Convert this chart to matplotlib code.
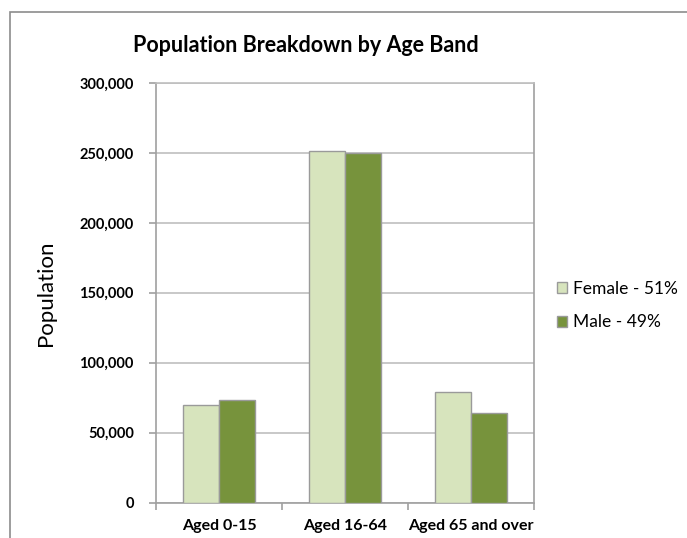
import matplotlib
matplotlib.use("Agg")
import matplotlib.pyplot as plt
from matplotlib.patches import Rectangle
from matplotlib.ticker import FuncFormatter
import numpy as np

categories = ["Aged 0-15", "Aged 16-64", "Aged 65 and over"]
female = [69700, 251200, 78800]
male = [73100, 249800, 64200]
series_labels = ["Female - 51%", "Male - 49%"]
title = "Population Breakdown by Age Band"
ylabel = "Population"

W, H = 687, 538
fig = plt.figure(figsize=(W / 100, H / 100), dpi=100)
plt.rcParams['font.family'] = ['Lato', 'DejaVu Sans']

# outer chart frame
fig.patches.append(Rectangle((9.5 / W, -0.2), 1.2, 1.2 - 12 / H, transform=fig.transFigure,
                             fill=False, edgecolor="#8c8c8c", linewidth=1.2, zorder=0))

left, right, top, bottom = 156, 534, 83, 502.5
ax = fig.add_axes([left / W, 1 - bottom / H, (right - left) / W, (bottom - top) / H])
x = np.arange(len(categories))
bw = 0.289
ax.bar(x - bw / 2, female, bw, color="#d7e4bd", edgecolor="#9a9a9a", linewidth=1, label=series_labels[0], zorder=3)
ax.bar(x + bw / 2, male, bw, color="#77933c", edgecolor="#9a9a9a", linewidth=1, label=series_labels[1], zorder=3)

ax.set_xlim(-0.5, 2.5)
ax.set_ylim(0, 300000)
ax.set_yticks(np.arange(0, 300001, 50000))
ax.yaxis.set_major_formatter(FuncFormatter(lambda v, p: f"{int(v):,}"))
ax.grid(axis="y", color="#bfbfbf", linewidth=1.2, zorder=0)
ax.spines["top"].set_color("#bfbfbf")
ax.spines["top"].set_linewidth(1.2)
for s in ["left", "bottom", "right"]:
    ax.spines[s].set_color("#a0a0a0")
    ax.spines[s].set_linewidth(1.2)

ax.set_xticks([-0.5, 0.5, 1.5, 2.5])
ax.set_xticklabels([])
ax.set_xticks(x, minor=True)
ax.set_xticklabels(categories, minor=True, fontweight="bold", fontsize=11.5)
ax.tick_params(axis="x", which="minor", length=0, pad=12)
ax.tick_params(axis="x", which="major", length=5, color="#a0a0a0", width=1.2)
ax.tick_params(axis="y", length=5, color="#a0a0a0", width=1.2, labelsize=10.5, pad=11)
for t in ax.get_yticklabels():
    t.set_fontweight("bold")

fig.text(306 / W, 1 - 45 / H, title, ha="center", va="center", fontsize=15.5, fontweight="bold")
fig.text(46 / W, 1 - 293 / H, ylabel, ha="center", va="center", rotation=90, fontsize=16)

fig.legend(loc="center left", bbox_to_anchor=(541 / W, 1 - 305.5 / H), frameon=False,
           fontsize=12.5, handlelength=0.6, handleheight=0.6, handletextpad=0.35, labelspacing=1.0)

fig.savefig("out.png", dpi=100)
